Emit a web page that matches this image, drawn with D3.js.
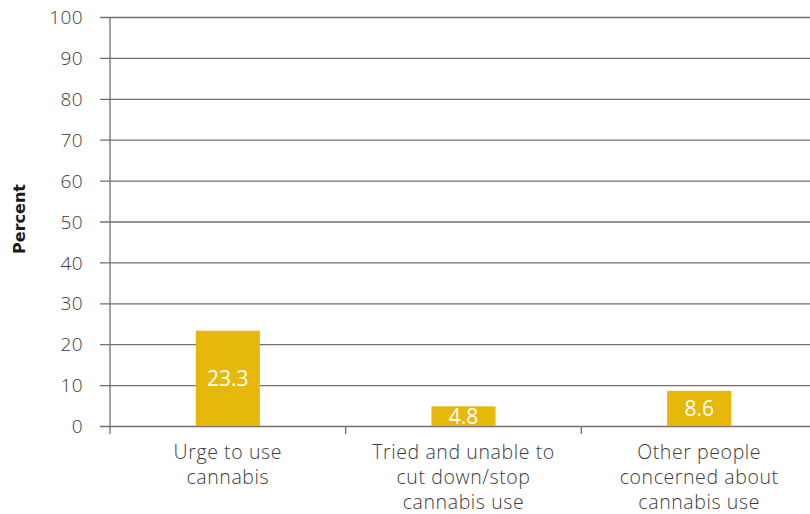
<!DOCTYPE html>
<html>
<head>
<meta charset="utf-8">
<script src="https://cdn.jsdelivr.net/npm/d3@7"></script>
<style>
  html, body { margin: 0; padding: 0; background: #fff; }
  svg { display: block; }
  text { font-family: "Open Sans", "Noto Sans", sans-serif; }
</style>
</head>
<body>
<svg id="chart" width="810" height="514"></svg>
<script>
// Cannabis dependence indicators (percent)
const categories = [
  ["Urge to use", "cannabis"],
  ["Tried and unable to", "cut down/stop", "cannabis use"],
  ["Other people", "concerned about", "cannabis use"]
];
const values = [23.3, 4.8, 8.6];
const yTicks = [0, 10, 20, 30, 40, 50, 60, 70, 80, 90, 100];

const W = 810, H = 514;
const margin = { left: 110, top: 17, bottom: 88 };
const plotRight = 817;

const svg = d3.select("#chart");

const keys = categories.map((c, i) => i);
const x = d3.scaleBand().domain(keys).range([margin.left, plotRight]).padding(0);
const y = d3.scaleLinear().domain([0, 100]).range([H - margin.bottom, margin.top]);

const gridColor = "#707070";
const textColor = "#3c3c3c";
const barColor = "#E6B80A";

// Horizontal gridlines with left tick marks
const yAxis = d3.axisLeft(y)
  .tickValues(yTicks)
  .tickSize(-(W - margin.left))
  .tickSizeOuter(0)
  .tickPadding(27);

const gy = svg.append("g")
  .attr("transform", `translate(${margin.left},0)`)
  .call(yAxis);
gy.select(".domain").remove();
gy.selectAll(".tick line")
  .attr("x1", -10)
  .attr("stroke", gridColor)
  .attr("stroke-width", 1.3);
gy.selectAll(".tick text")
  .attr("fill", textColor)
  .style("font-size", "19px")
  .style("font-weight", "300")
  .style("letter-spacing", "0.4px")
  .attr("dy", "0.35em");

// Vertical axis line
svg.append("line")
  .attr("x1", margin.left).attr("x2", margin.left)
  .attr("y1", y(100)).attr("y2", y(0) + 8)
  .attr("stroke", gridColor).attr("stroke-width", 1.3);

// Category separators below baseline
const gx = svg.append("g")
  .attr("transform", `translate(0,${y(0)})`);
keys.slice(1).forEach(k => {
  gx.append("line")
    .attr("x1", x(k)).attr("x2", x(k))
    .attr("y1", 0).attr("y2", 8)
    .attr("stroke", gridColor).attr("stroke-width", 1.3);
});

// Bars
const barW = x.bandwidth() * 0.272;
svg.append("g").selectAll("rect")
  .data(values)
  .join("rect")
  .attr("x", (d, i) => x(i) + x.bandwidth() / 2 - barW / 2)
  .attr("width", barW)
  .attr("y", d => y(d))
  .attr("height", d => y(0) - y(d))
  .attr("fill", barColor);

// Value labels centred inside each bar
svg.append("g").selectAll("text")
  .data(values)
  .join("text")
  .attr("x", (d, i) => x(i) + x.bandwidth() / 2)
  .attr("y", d => (y(d) + y(0)) / 2)
  .attr("dy", "0.36em")
  .attr("text-anchor", "middle")
  .attr("fill", "#fff")
  .style("font-size", "21px")
  .text(d => d.toFixed(1));

// Category labels
const catG = svg.append("g");
categories.forEach((lines, i) => {
  const t = catG.append("text")
    .attr("text-anchor", "middle")
    .attr("fill", textColor)
    .style("font-size", "19.5px")
    .style("font-weight", "300")
    .style("letter-spacing", "0.6px");
  lines.forEach((ln, j) => {
    t.append("tspan")
      .attr("x", x(i) + x.bandwidth() / 2)
      .attr("y", 459 + j * 25)
      .text(ln);
  });
});

// Y axis title
svg.append("text")
  .attr("transform", `translate(25,219) rotate(-90)`)
  .attr("text-anchor", "middle")
  .attr("fill", "#1a1a1a")
  .style("font-family", "'DejaVu Sans', sans-serif")
  .style("font-size", "16px")
  .style("font-weight", "bold")
  .text("Percent");
</script>
</body>
</html>
